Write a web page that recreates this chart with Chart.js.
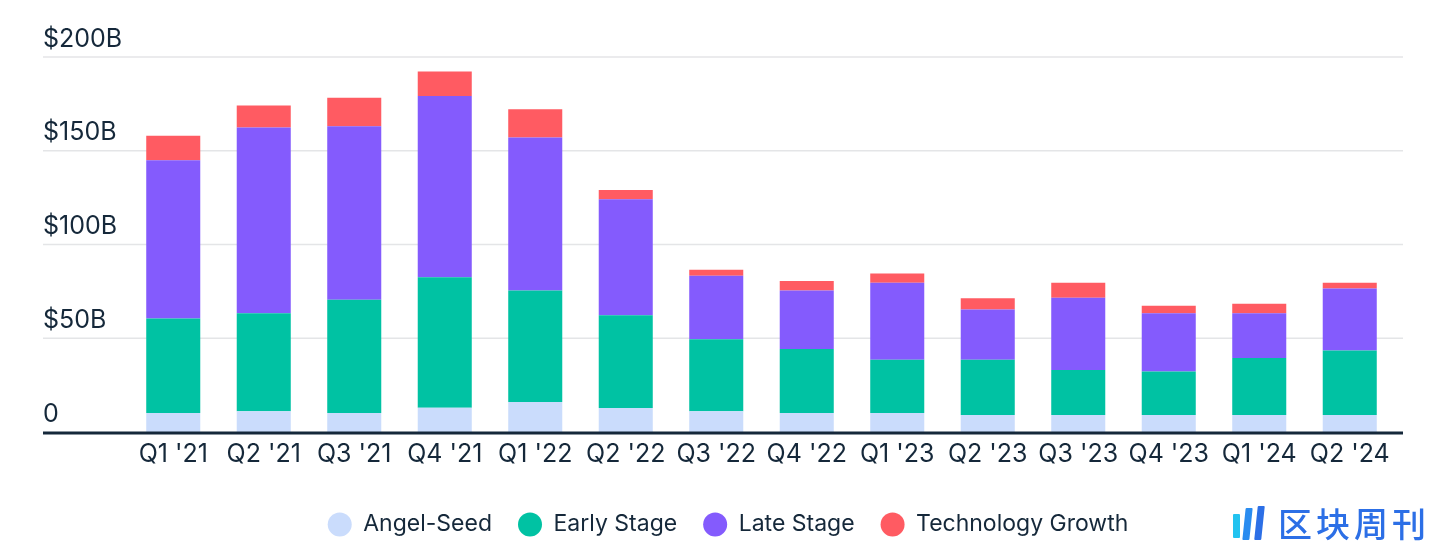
<!DOCTYPE html>
<html>
<head>
<meta charset="utf-8">
<script src="https://cdn.jsdelivr.net/npm/chart.js@4.4.1/dist/chart.umd.min.js"></script>
<style>
html,body{margin:0;padding:0;background:#fff;}
#wrap{position:relative;width:1456px;height:546px;overflow:hidden;}
canvas{display:block;}
#logo{position:absolute;left:1232px;top:504px;height:38px;display:flex;align-items:center;}
#logo .ic{position:relative;width:36px;height:34px;margin-right:10px;}
#logo .ic span{position:absolute;bottom:0;width:7px;border-radius:1px;}
#logo .txt{font-family:"Noto Sans CJK SC",sans-serif;font-size:34px;font-weight:500;color:#2c6fe6;letter-spacing:4px;line-height:38px;}
</style>
</head>
<body>
<div id="wrap">
<canvas id="c" width="1456" height="546"></canvas>
<div id="logo"><div class="ic"><span style="left:1px;height:24px;bottom:2px;background:#22c3f0;"></span><span style="left:12px;height:32px;background:#2a8cf0;transform:skewX(-6deg);"></span><span style="left:24px;height:34px;background:#2c6fe6;transform:skewX(-6deg);"></span></div><div class="txt">区块周刊</div></div>
</div>
<script>
const categories = ["Q1 '21","Q2 '21","Q3 '21","Q4 '21","Q1 '22","Q2 '22","Q3 '22","Q4 '22","Q1 '23","Q2 '23","Q3 '23","Q4 '23","Q1 '24","Q2 '24"];
const angelSeed = [10.2, 11.1, 10.2, 13.0, 16.0, 12.8, 11.1, 10.2, 10.2, 9.1, 9.1, 9.1, 9.1, 9.1];
const earlyStage = [50.4, 52.3, 60.3, 69.5, 59.5, 49.5, 38.4, 34.1, 28.3, 29.4, 24.0, 23.2, 30.4, 34.4];
const lateStage = [84.4, 99.0, 92.6, 96.7, 81.6, 61.8, 33.8, 31.2, 41.1, 26.9, 38.5, 31.1, 23.9, 33.1];
const techGrowth = [13.0, 11.8, 15.2, 13.1, 15.1, 5.0, 3.2, 5.0, 5.0, 6.0, 8.0, 3.9, 5.0, 3.0];
const yTicks = [0, 50, 100, 150, 200];
const yTickLabels = ["0", "$50B", "$100B", "$150B", "$200B"];

const seriesNames = ["Angel-Seed", "Early Stage", "Late Stage", "Technology Growth"];
const seriesColors = ["#cadcfc", "#00c2a3", "#845bfd", "#ff5b62"];
const seriesData = [angelSeed, earlyStage, lateStage, techGrowth];

const FONT = "Inter, 'Noto Sans', sans-serif";
const INK = "#15283a";

const gridPlugin = {
  id: 'gridPlugin',
  beforeDatasetsDraw(chart) {
    const ctx = chart.ctx, y = chart.scales.y;
    const x0 = 43, x1 = chart.width - 53;
    ctx.save();
    ctx.strokeStyle = '#e4e5e7';
    ctx.lineWidth = 1.5;
    yTicks.forEach(v => {
      if (v === 0) return;
      const py = y.getPixelForValue(v);
      ctx.beginPath(); ctx.moveTo(x0, py); ctx.lineTo(x1, py); ctx.stroke();
    });
    ctx.restore();
  },
  afterDatasetsDraw(chart) {
    const ctx = chart.ctx, y = chart.scales.y;
    const x0 = 43, x1 = chart.width - 53;
    const py = y.getPixelForValue(0) + 1;
    ctx.save();
    ctx.strokeStyle = INK;
    ctx.lineWidth = 3;
    ctx.beginPath(); ctx.moveTo(x0, py); ctx.lineTo(x1, py); ctx.stroke();
    ctx.restore();
  }
};

new Chart(document.getElementById('c'), {
  type: 'bar',
  data: {
    labels: categories,
    datasets: seriesData.map((d, i) => ({
      label: seriesNames[i],
      data: d,
      backgroundColor: seriesColors[i],
      borderWidth: 0,
      categoryPercentage: 1,
      barPercentage: 0.597
    }))
  },
  options: {
    responsive: false,
    animation: false,
    devicePixelRatio: 1,
    layout: { padding: { left: 43, right: 43, top: 57, bottom: 0 } },
    plugins: {
      tooltip: { enabled: false },
      legend: {
        position: 'bottom',
        labels: {
          usePointStyle: true,
          pointStyle: 'circle',
          boxHeight: 17,
          pointStyleWidth: 24,
          padding: 26,
          color: INK,
          font: { family: FONT, size: 23 }
        }
      }
    },
    scales: {
      x: {
        stacked: true,
        grid: { display: false, drawTicks: false },
        border: { display: false },
        ticks: {
          color: INK,
          font: { family: FONT, size: 25 },
          padding: 7,
          maxRotation: 0,
          autoSkip: false
        },
        afterFit(scale) { scale.height = 55; }
      },
      y: {
        stacked: true,
        min: 0,
        max: 200,
        grid: { display: false, drawTicks: false },
        border: { display: false },
        afterBuildTicks(scale) { scale.ticks = yTicks.map(v => ({ value: v })); },
        ticks: {
          color: INK,
          font: { family: FONT, size: 25 },
          crossAlign: 'far',
          labelOffset: -18,
          padding: 0,
          callback: (v) => yTickLabels[yTicks.indexOf(v)]
        },
        afterFit(scale) { scale.width = 85; }
      },
      yRight: {
        position: 'right',
        min: 0,
        max: 200,
        grid: { display: false, drawTicks: false },
        border: { display: false },
        ticks: { display: false },
        afterFit(scale) { scale.width = 18; }
      }
    }
  },
  plugins: [gridPlugin]
});
</script>
</body>
</html>
